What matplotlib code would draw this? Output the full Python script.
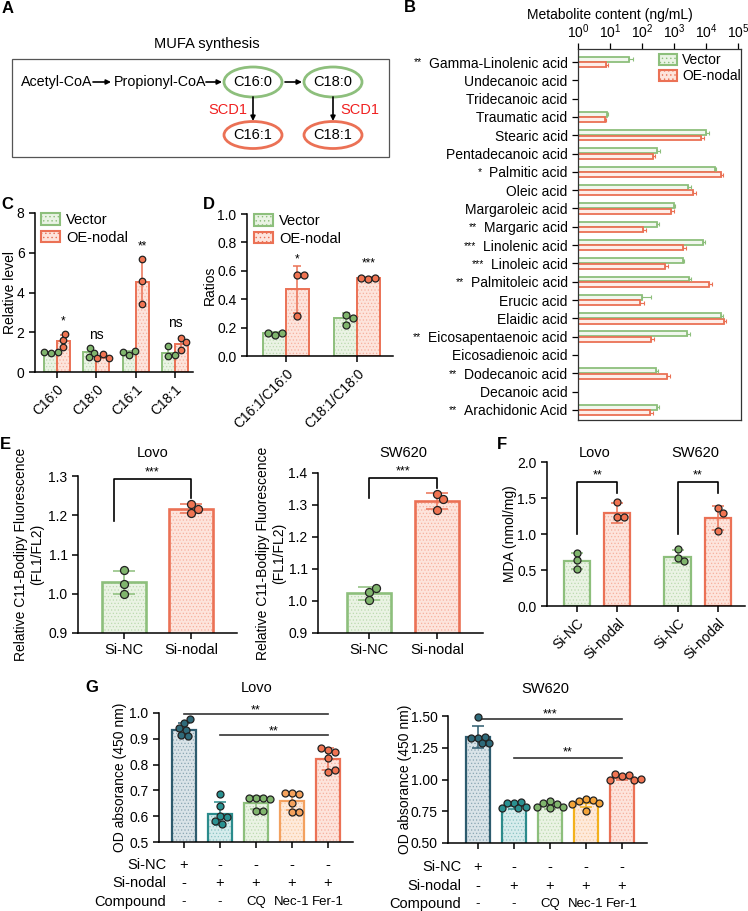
import numpy as np
import matplotlib
matplotlib.use('Agg')
import matplotlib.pyplot as plt
from matplotlib.patches import Ellipse, Rectangle, Patch
from matplotlib.transforms import IdentityTransform, blended_transform_factory

plt.rcParams['font.family'] = ['Liberation Sans', 'DejaVu Sans']
plt.rcParams['mathtext.default'] = 'regular'
plt.rcParams['hatch.linewidth'] = 0.5
plt.rcParams['axes.linewidth'] = 1.1
plt.rcParams['xtick.major.width'] = 1.1
plt.rcParams['ytick.major.width'] = 1.1
plt.rcParams['xtick.major.size'] = 4
plt.rcParams['ytick.major.size'] = 4
plt.rcParams['font.size'] = 10
nan = np.nan

# ---------------- data ----------------
# A: pathway
path_top = ['Acetyl-CoA', 'Propionyl-CoA']
sat_fa = ['C16:0', 'C18:0']
mufa = ['C16:1', 'C18:1']
enzyme = 'SCD1'

# B: metabolite content
b_cats = ['Gamma-Linolenic acid', 'Undecanoic acid', 'Tridecanoic acid', 'Traumatic acid',
          'Stearic acid', 'Pentadecanoic acid', 'Palmitic acid', 'Oleic acid',
          'Margaroleic acid', 'Margaric acid', 'Linolenic acid', 'Linoleic acid',
          'Palmitoleic acid', 'Erucic acid', 'Elaidic acid', 'Eicosapentaenoic acid',
          'Eicosadienoic acid', 'Dodecanoic acid', 'Decanoic acid', 'Arachidonic Acid']
b_sig = ['**', '', '', '', '', '', '*', '', '', '**', '***', '***', '**', '', '', '**', '', '**', '', '**']
b_vec = [40, nan, nan, 7.9, 1.0e4, 300, 1.9e4, 2.8e3, 1.0e3, 290, 8.3e3, 1.95e3, 2.9e3, 97, 2.9e4, 2.5e3, nan, 275, nan, 300]
b_vec_err = [13, nan, nan, 0.6, 2.5e3, 70, 2e3, 600, 100, 40, 1.3e3, 150, 400, 100, 6e3, 600, nan, 35, nan, 50]
b_oe = [7.5, nan, nan, 7.0, 6.9e3, 215, 2.9e4, 3.8e3, 800, 110, 1.95e3, 520, 1.27e4, 87, 3.6e4, 190, nan, 620, nan, 178]
b_oe_err = [1.2, nan, nan, 0.6, 1.8e3, 40, 5e3, 1e3, 200, 25, 400, 130, 2.5e3, 30, 7e3, 50, nan, 120, nan, 40]
b_xticks = [1e0, 1e1, 1e2, 1e3, 1e4, 1e5]
b_xticklabels = ['$10^{0}$', '$10^{1}$', '$10^{2}$', '$10^{3}$', '$10^{4}$', '$10^{5}$']

# C: relative level
c_cats = ['C16:0', 'C18:0', 'C16:1', 'C18:1']
c_vec_mean = [0.97, 1.0, 0.98, 0.97]
c_vec_err = [0.03, 0.2, 0.08, 0.25]
c_vec_pts = [[0.95, 1.0, 1.0], [1.2, 0.95, 0.75], [0.88, 1.05, 1.0], [0.82, 1.3, 0.85]]
c_oe_mean = [1.58, 0.78, 4.55, 1.42]
c_oe_err = [0.3, 0.1, 1.1, 0.35]
c_oe_pts = [[1.25, 1.6, 1.9], [0.9, 0.72, 0.72], [3.4, 4.6, 5.7], [1.1, 1.72, 1.5]]
c_sig = ['*', 'ns', '**', 'ns']

# D: ratios
d_cats = ['C16:1/C16:0', 'C18:1/C18:0']
d_vec_mean = [0.16, 0.265]
d_vec_err = [0.01, 0.035]
d_vec_pts = [[0.15, 0.165, 0.16], [0.29, 0.22, 0.27]]
d_oe_mean = [0.47, 0.55]
d_oe_err = [0.167, 0.008]
d_oe_pts = [[0.28, 0.57, 0.57], [0.54, 0.55, 0.55]]
d_sig = ['*', '***']

# E: C11-Bodipy
e_groups = ['Si-NC', 'Si-nodal']
e_lovo_mean = [1.029, 1.217]
e_lovo_err = [0.03, 0.012]
e_lovo_pts = [[1.061, 1.026, 1.0], [1.205, 1.228, 1.217]]
e_sw_mean = [1.024, 1.313]
e_sw_err = [0.02, 0.025]
e_sw_pts = [[1.028, 1.003, 1.04], [1.335, 1.32, 1.285]]

# F: MDA
f_groups = ['Si-NC', 'Si-nodal', 'Si-NC', 'Si-nodal']
f_mean = [0.62, 1.29, 0.685, 1.22]
f_err = [0.11, 0.14, 0.09, 0.17]
f_pts = [[0.74, 0.64, 0.51], [1.44, 1.24, 1.24], [0.79, 0.66, 0.62], [1.36, 1.29, 1.04]]

# G: OD absorbance
g_rows = ['Si-NC', 'Si-nodal', 'Compound']
g_table = [['+', '-', '-', '-', '-'],
           ['-', '+', '+', '+', '+'],
           ['-', '-', 'CQ', 'Nec-1', 'Fer-1']]
g_lovo_mean = [0.935, 0.61, 0.653, 0.658, 0.822]
g_lovo_err = [0.025, 0.045, 0.025, 0.033, 0.042]
g_lovo_pts = [[0.96, 0.975, 0.935, 0.94, 0.915, 0.91],
              [0.685, 0.64, 0.6, 0.595, 0.58, 0.57],
              [0.67, 0.672, 0.67, 0.665, 0.62, 0.62],
              [0.69, 0.685, 0.688, 0.65, 0.618, 0.618],
              [0.855, 0.85, 0.865, 0.825, 0.77, 0.778]]
g_sw_mean = [1.335, 0.79, 0.79, 0.815, 1.015]
g_sw_err = [0.085, 0.022, 0.022, 0.03, 0.018]
g_sw_pts = [[1.49, 1.33, 1.335, 1.33, 1.285, 1.285],
            [0.815, 0.82, 0.812, 0.78, 0.776, 0.772],
            [0.83, 0.81, 0.812, 0.776, 0.785, 0.78],
            [0.845, 0.835, 0.83, 0.812, 0.808, 0.755],
            [1.03, 1.035, 1.04, 1.0, 1.0, 1.005]]

# ---------------- styles ----------------
GE, GF, GH, GP = '#8dbf7c', '#eaf3e4', '#bcdab0', '#80b56d'
RE, RF, RH, RP = '#eb7155', '#fde4dc', '#f6b09e', '#f07452'

W, H = 748, 911
fig = plt.figure(figsize=(W / 100, H / 100), dpi=100)

ov = fig.add_axes([0, 0, 1, 1])
ov.set_xlim(0, W)
ov.set_ylim(H, 0)
ov.axis('off')


def px_ax(l, t, r, b):
    return fig.add_axes([l / W, (H - b) / H, (r - l) / W, (b - t) / H])


def style(ax):
    for s in ['top', 'right']:
        ax.spines[s].set_visible(False)
    ax.patch.set_alpha(0)
    ax.tick_params(labelsize=10, length=4, width=1.1)


def draw_bar(ax, x, h, w, edge, fill, hatchc, lw):
    ax.bar(x, h, w, color=fill, edgecolor=hatchc, hatch='.....', linewidth=0, zorder=1)
    ax.bar(x, h, w, facecolor='none', edgecolor=edge, linewidth=lw, zorder=2)


def swarm(ax, xc, vals, d_px, thr=0.95):
    tr = ax.transData
    inv = tr.inverted()
    x0 = tr.transform((xc, 0))[0]
    placed, xs = [], []
    for v in vals:
        yp = tr.transform((xc, v))[1]
        found = None
        k = 0
        while found is None:
            cands = [0.0] if k == 0 else [k * 1.0, -k * 1.0]
            for c in cands:
                if all((x0 + c - px) ** 2 + (yp - py) ** 2 >= (thr * d_px) ** 2 for px, py in placed):
                    found = c
                    break
            k += 1
        placed.append((x0 + found, yp))
        xs.append(inv.transform((x0 + found, yp))[0])
    return xs


def points(ax, xc, vals, color, d_px=7):
    xs = swarm(ax, xc, vals, d_px)
    s = (d_px / 1.389) ** 2
    ax.scatter(xs, vals, s=s, c=color, edgecolors='#222222', linewidths=0.9, zorder=4, clip_on=False)


def ebar(ax, x, m, e, color, cap):
    ax.errorbar([x], [m], yerr=[e], fmt='none', ecolor=color, elinewidth=1.1, capsize=cap,
                capthick=1.1, zorder=3)


def ylab(ax, text, xpx, l, r):
    ax.set_ylabel(text, fontsize=10, va='center', ha='center', multialignment='center')
    ax.yaxis.set_label_coords((xpx - l) / (r - l), 0.5)


# panel letters
for lab, x, y in [('A', 2, 1), ('B', 404, 0), ('C', 1, 197), ('D', 203, 197), ('E', 0, 437),
                  ('F', 497, 437), ('G', 85, 680)]:
    ov.text(x, y, lab, fontsize=12, fontweight='bold', ha='left', va='top')

# ---------------- A ----------------
ov.text(207, 44, 'MUFA synthesis', fontsize=10.5, ha='center', va='center')
ov.add_patch(Rectangle((12, 59), 377, 98, fill=False, edgecolor='#555555', lw=0.9))
ov.text(21, 82, path_top[0], fontsize=10.3, ha='left', va='center')
ov.text(114, 82, path_top[1], fontsize=10.3, ha='left', va='center')
arrow_kw = dict(arrowstyle='-|>', color='k', lw=1.2, mutation_scale=7, shrinkA=0, shrinkB=0)
for x0, x1 in [(93, 111), (206, 222), (285, 302)]:
    ov.annotate('', xy=(x1, 82), xytext=(x0, 82), arrowprops=arrow_kw)
for i, xc in enumerate([253, 333]):
    ov.add_patch(Ellipse((xc, 82), 58, 30, fill=False, edgecolor=GE, lw=2.0))
    ov.text(xc, 82, sat_fa[i], fontsize=10.5, ha='center', va='center')
    ov.add_patch(Ellipse((xc, 135), 58, 27, fill=False, edgecolor=RE, lw=2.0))
    ov.text(xc, 135, mufa[i], fontsize=10.5, ha='center', va='center')
    ov.annotate('', xy=(xc, 121), xytext=(xc, 97), arrowprops=arrow_kw)
ov.text(247, 110, enzyme, fontsize=10.5, color='#f02020', ha='right', va='center')
ov.text(340, 110, enzyme, fontsize=10.5, color='#f02020', ha='left', va='center')

# ---------------- B ----------------
axb = px_ax(578, 49, 741, 420)
axb.set_xscale('log')
axb.set_xlim(1, 1.24e5)
axb.set_ylim(19.55, -0.71)
yb = np.arange(len(b_cats))
for vals, errs, off, ec, fc in [(b_vec, b_vec_err, -0.15, GE, '#f1f7ee'), (b_oe, b_oe_err, 0.15, RE, '#fdeee9')]:
    for i in range(len(b_cats)):
        if np.isnan(vals[i]):
            continue
        axb.barh(yb[i] + off, vals[i] - 1, height=0.27, left=1, color=fc, edgecolor=ec, lw=1.3, zorder=2)
        axb.errorbar([vals[i]], [yb[i] + off], xerr=[[0], [errs[i]]], fmt='none', ecolor=ec,
                     elinewidth=0.8, capsize=1.6, capthick=0.8, zorder=3)
axb.xaxis.tick_top()
axb.set_xticks(b_xticks)
axb.set_xticklabels(b_xticklabels, fontsize=10)
axb.xaxis.set_minor_locator(matplotlib.ticker.NullLocator())
axb.set_yticks(yb)
axb.set_yticklabels(b_cats, fontsize=10)
axb.tick_params(axis='y', length=4, width=0.9)
axb.tick_params(axis='x', length=4, width=0.9, pad=2)
for s in axb.spines.values():
    s.set_linewidth(0.9)
    s.set_color('#333333')
ov.text(610, 15, 'Metabolite content (ng/mL)', fontsize=10, ha='center', va='center')
hb = [Patch(facecolor=GF, edgecolor=GE, hatch='....', lw=1.5, label='Vector'),
      Patch(facecolor=RF, edgecolor=RE, hatch='....', lw=1.5, label='OE-nodal')]
axb.legend(handles=hb, loc='upper left', bbox_to_anchor=(0.47, 1.0), frameon=False, fontsize=10,
           borderaxespad=0.2, borderpad=0.1, handlelength=1.3, handleheight=0.8,
           labelspacing=0.15, handletextpad=0.4)

# ---------------- C ----------------
axc = px_ax(35, 213, 193, 372)
style(axc)
axc.set_ylim(0, 8)
axc.set_xlim(-0.56, 3.46)
bw = 0.33
for i in range(4):
    draw_bar(axc, i - bw / 2, c_vec_mean[i], bw, GE, GF, GH, 1.4)
    draw_bar(axc, i + bw / 2, c_oe_mean[i], bw, RE, RF, RH, 1.4)
    ebar(axc, i - bw / 2, c_vec_mean[i], c_vec_err[i], GE, 2)
    ebar(axc, i + bw / 2, c_oe_mean[i], c_oe_err[i], RE, 2)
for i in range(4):
    points(axc, i - bw / 2, c_vec_pts[i], GP, 6.5)
    points(axc, i + bw / 2, c_oe_pts[i], RP, 6.5)
c_sig_pos = [(0 + bw / 2, 2.55), (1, 1.85), (2 + bw / 2, 6.3), (3, 2.45)]
for s, (x, y) in zip(c_sig, c_sig_pos):
    axc.text(x, y, s, ha='center', va='center', fontsize=10 if s == 'ns' else 8.5)
axc.set_yticks([0, 2, 4, 6, 8])
axc.set_xticks(range(4))
axc.set_xticklabels(c_cats, rotation=45, ha='right', rotation_mode='anchor', fontsize=10)
ylab(axc, 'Relative level', 10, 35, 193)
hc = [Patch(facecolor=GF, edgecolor=GE, hatch='....', lw=1.5, label='Vector'),
      Patch(facecolor=RF, edgecolor=RE, hatch='....', lw=1.5, label='OE-nodal')]
axc.legend(handles=hc, loc='upper left', bbox_to_anchor=(0.04, 1.0), frameon=False, fontsize=10.5,
           borderaxespad=0, borderpad=0, handlelength=1.3, handleheight=0.8,
           labelspacing=0.25, handletextpad=0.4)

# ---------------- D ----------------
axd = px_ax(247, 214, 393, 356)
style(axd)
axd.set_ylim(0, 1.0)
axd.set_xlim(-0.55, 1.51)
bw = 0.32
for i in range(2):
    draw_bar(axd, i - bw / 2, d_vec_mean[i], bw, GE, GF, GH, 1.4)
    draw_bar(axd, i + bw / 2, d_oe_mean[i], bw, RE, RF, RH, 1.4)
    ebar(axd, i - bw / 2, d_vec_mean[i], d_vec_err[i], GE, 3)
    ebar(axd, i + bw / 2, d_oe_mean[i], d_oe_err[i], RE, 3)
for i in range(2):
    points(axd, i - bw / 2, d_vec_pts[i], GP, 7)
    points(axd, i + bw / 2, d_oe_pts[i], RP, 7)
for s, (x, y) in zip(d_sig, [(0 + bw / 2, 0.68), (1 + bw / 2, 0.655)]):
    axd.text(x, y, s, ha='center', va='center', fontsize=8.5)
axd.set_yticks([0, 0.2, 0.4, 0.6, 0.8, 1.0])
axd.set_yticklabels(['0.0', '0.2', '0.4', '0.6', '0.8', '1.0'])
axd.set_xticks(range(2))
axd.set_xticklabels(d_cats, rotation=45, ha='right', rotation_mode='anchor', fontsize=10)
ylab(axd, 'Ratios', 210, 247, 393)
axd.legend(handles=hc, loc='upper left', bbox_to_anchor=(0.05, 1.0), frameon=False, fontsize=10.5,
           borderaxespad=0, borderpad=0, handlelength=1.3, handleheight=0.8,
           labelspacing=0.25, handletextpad=0.4)


# ---------------- E ----------------
def panel_e(l, t, r, b, c0, c1, ylim, yticks, mean, err, pts, bracket, star_y, title_xy, title, ylx):
    ax = px_ax(l, t, r, b)
    style(ax)
    ax.set_ylim(*ylim)
    sp = c1 - c0
    ax.set_xlim(-(c0 - l) / sp, 1 + (r - c1) / sp)
    bw = 44.0 / sp
    draw_bar(ax, 0, mean[0], bw, GE, GF, GH, 1.9)
    draw_bar(ax, 1, mean[1], bw, RE, RF, RH, 1.9)
    ebar(ax, 0, mean[0], err[0], GE, 8)
    ebar(ax, 1, mean[1], err[1], RE, 8)
    points(ax, 0, pts[0], GP, 8)
    points(ax, 1, pts[1], RP, 8)
    (xa, ya), (xb, yb_), ytop = bracket
    ax.plot([xa, xa, xb, xb], [ya, ytop, ytop, yb_], color='k', lw=1.2, clip_on=False)
    ax.text((xa + xb) / 2, star_y, '***', ha='center', va='center', fontsize=9, clip_on=False)
    ax.set_yticks(yticks)
    ax.set_yticklabels(['%.1f' % v for v in yticks])
    ax.set_xticks([0, 1])
    ax.set_xticklabels(e_groups, fontsize=10.5)
    ylab(ax, 'Relative C11-Bodipy Fluorescence\n(FL1/FL2)', ylx, l, r)
    ov.text(title_xy[0], title_xy[1], title, fontsize=10.5, ha='center', va='center')
    return ax


panel_e(78, 476, 237, 633, 124, 191, (0.9, 1.3), [0.9, 1.0, 1.1, 1.2, 1.3], e_lovo_mean, e_lovo_err,
        e_lovo_pts, ((-0.15, 1.185), (1.0, 1.245), 1.293), 1.308, (153, 453), 'Lovo', 29)
panel_e(318, 473, 483, 633, 369, 437, (0.9, 1.4), [0.9, 1.0, 1.1, 1.2, 1.3, 1.4], e_sw_mean, e_sw_err,
        e_sw_pts, ((0.0, 1.322), (1.0, 1.353), 1.384), 1.405, (403, 453), 'SW620', 271)

# ---------------- F ----------------
axf = px_ax(547, 462, 745, 606)
style(axf)
axf.set_ylim(0, 2.0)
axf.set_xlim(-0.75, 4.18)
fx = [0, 1, 2.5, 3.5]
bw = 0.65
for i in range(4):
    ec, fc, hc_ = (GE, GF, GH) if i % 2 == 0 else (RE, RF, RH)
    draw_bar(axf, fx[i], f_mean[i], bw, ec, fc, hc_, 1.6)
    ebar(axf, fx[i], f_mean[i], f_err[i], ec, 4)
for i in range(4):
    pc = GP if i % 2 == 0 else RP
    points(axf, fx[i], f_pts[i], pc, 7)
for xa, xb in [(fx[0], fx[1]), (fx[2], fx[3])]:
    axf.plot([xa, xa, xb, xb], [1.0, 1.72, 1.72, 1.57], color='k', lw=1.2, clip_on=False)
    axf.text((xa + xb) / 2, 1.81, '**', ha='center', va='center', fontsize=9)
axf.set_yticks([0, 0.5, 1.0, 1.5, 2.0])
axf.set_yticklabels(['0.0', '0.5', '1.0', '1.5', '2.0'])
axf.set_xticks(fx)
axf.set_xticklabels(f_groups, rotation=45, ha='right', rotation_mode='anchor', fontsize=10)
ylab(axf, 'MDA (nmol/mg)', 510, 547, 745)
ov.text(595, 453, 'Lovo', fontsize=10.5, ha='center', va='center')
ov.text(695, 453, 'SW620', fontsize=10.5, ha='center', va='center')

# ---------------- G ----------------
g_edge = ['#2d5b6e', '#2b8b8c', GE, '#f3a15f', RE]
g_fill = ['#d9e3e8', '#d6ecec', GF, '#feeadb', RF]
g_hat = ['#8aa6b3', '#8cc4c4', GH, '#f7c9a0', RH]
g_pt = ['#2f6a7a', '#2a9191', GP, '#f5a25c', RP]


def panel_g(l, r, t, b, c0, c4, ylim, yticks, fmt, mean, err, pts, lines, title_xy, title, ylx,
            row_y, lab_x, edges, ptc):
    ax = px_ax(l, t, r, b)
    style(ax)
    ax.set_ylim(*ylim)
    sp = (c4 - c0) / 4
    ax.set_xlim(-(c0 - l) / sp, 4 + (r - c4) / sp)
    bw = 0.64
    for i in range(5):
        draw_bar(ax, i, mean[i], bw, edges[i], g_fill[i], g_hat[i], 1.6)
        ebar(ax, i, mean[i], err[i], edges[i], 4)
    for i in range(5):
        points(ax, i, pts[i], ptc[i], 7)
    for (xa, xb, yl, ys, s) in lines:
        ax.plot([xa, xb], [yl, yl], color='#333333', lw=1.2, clip_on=False)
        ax.text((xa + xb) / 2, ys, s, ha='center', va='center', fontsize=9, clip_on=False)
    ax.set_yticks(yticks)
    ax.set_yticklabels([fmt % v for v in yticks])
    ax.set_xticks(range(5))
    ax.set_xticklabels([])
    ylab(ax, 'OD absorance (450 nm)', ylx, l, r)
    ov.text(title_xy[0], title_xy[1], title, fontsize=10.5, ha='center', va='center')
    tr = blended_transform_factory(ax.transData, ov.transData)
    for ri in range(3):
        ov.text(lab_x, row_y[ri], g_rows[ri], fontsize=10.5, ha='right', va='center')
        for ci in range(5):
            ax.text(ci, row_y[ri], g_table[ri][ci], transform=tr, fontsize=9.5 if ri == 2 else 10.5,
                    ha='center', va='center', clip_on=False)
    return ax


panel_g(159, 353, 713, 842, 184, 328, (0.5, 1.0), [0.5, 0.6, 0.7, 0.8, 0.9, 1.0], '%.1f',
        g_lovo_mean, g_lovo_err, g_lovo_pts,
        [(0, 4, 0.995, 1.011, '**'), (1, 4, 0.915, 0.93, '**')],
        (257, 688), 'Lovo', 120, [865, 883, 902], 166, g_edge, g_pt)
sw_edge = list(g_edge)
sw_edge[3] = '#f3b11d'
sw_pt = list(g_pt)
sw_pt[3] = '#f4a43a'
panel_g(448, 647, 716, 843, 478, 622, (0.5, 1.5), [0.5, 0.75, 1.0, 1.25, 1.5], '%.2f',
        g_sw_mean, g_sw_err, g_sw_pts,
        [(0, 4, 1.477, 1.51, '***'), (1, 4, 1.172, 1.21, '**')],
        (545, 689), 'SW620', 405, [867, 886, 904], 461, sw_edge, sw_pt)

# B significance stars placed left of tick labels
fig.canvas.draw()
for lbl, s in zip(axb.get_yticklabels(), b_sig):
    if not s:
        continue
    bb = lbl.get_window_extent()
    fig.text(bb.x0 - 7, (bb.y0 + bb.y1) / 2 + 1, s, transform=IdentityTransform(), fontsize=7.5,
             ha='right', va='center')

fig.savefig('out.png', dpi=100)
